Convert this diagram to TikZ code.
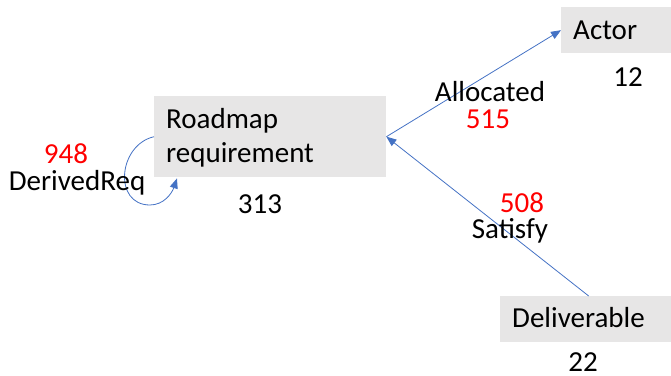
\documentclass[tikz,border=0pt]{standalone}
\usepackage{fontspec}
\setmainfont{Carlito}
\usetikzlibrary{arrows.meta,positioning,calc}
\definecolor{linkblue}{HTML}{4472C4}
\definecolor{boxgray}{HTML}{E7E6E6}
\definecolor{countred}{HTML}{FF0000}
\tikzset{
  every node/.style={font=\fontsize{29}{34}\selectfont},
  box/.style={fill=boxgray, inner xsep=12pt, inner ysep=0pt, anchor=north west, align=left},
  lbl/.style={inner sep=0pt, anchor=base},
  cnt/.style={lbl, text=countred},
  link/.style={draw=linkblue, line width=0.8pt, -{Triangle[length=10pt,width=8pt]}}
}
\begin{document}
\begin{tikzpicture}[x=1pt,y=-1pt]
  \useasboundingbox (0,0) rectangle (671,375);

  % class boxes
  \node[box, text width=208pt, text height=32pt, text depth=49pt]
    (road) at (154,96) {Roadmap\\requirement};
  \node[box, text width=86pt, text height=32pt, text depth=14pt]
    (actor) at (561,7) {Actor};
  \node[box, text width=147pt, text height=31pt, text depth=15pt]
    (deliv) at (500,296) {Deliverable};

  % instance counts
  \node[lbl] (nroad) at (260,213) {313};
  \node[lbl] (nactor) at (628,86) {12};
  \node[lbl] (ndeliv) at (583,371) {22};

  % associations
  \draw[link] (road.east) -- (actor.west);
  \draw[link] ($(deliv.north)+(3,0)$) -- (road.east);
  \coordinate (loopend) at ($(road.south west)+(23,1)$);
  \draw[link] (road.west) .. controls (118,145) and (113,205) .. (150,205)
    .. controls (164,205) and (172,193) .. (loopend);

  % association labels
  \node[cnt] (c948) at (66,163) {948};
  \node[lbl] (derived) at (77,190) {DerivedReq};
  \node[lbl] (alloc) at (490,101) {Allocated};
  \node[cnt] (c515) at (488,128) {515};
  \node[cnt] (c508) at (522,212) {508};
  \node[lbl] (satisfy) at (510,238) {Satisfy};
\end{tikzpicture}
\end{document}
